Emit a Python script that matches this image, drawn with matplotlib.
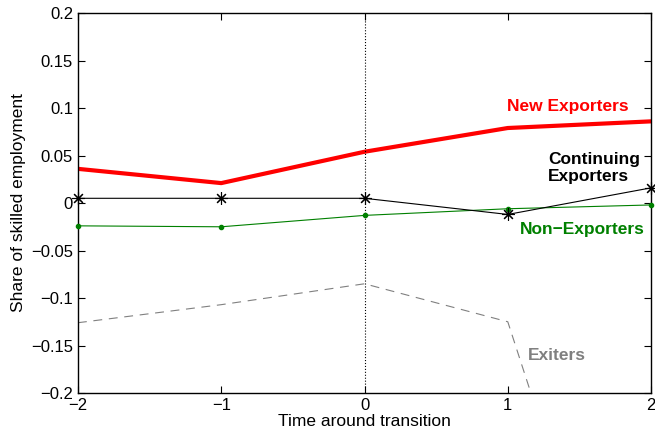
import matplotlib
matplotlib.use("Agg")
import matplotlib.pyplot as plt

plt.rcParams['font.family'] = ['Liberation Sans', 'DejaVu Sans']

t = [-2, -1, 0, 1, 2]
new_exp = [0.036, 0.021, 0.054, 0.079, 0.086]
cont_exp = [0.005, 0.005, 0.005, -0.012, 0.016]
non_exp = [-0.024, -0.025, -0.013, -0.006, -0.002]
exiters = [-0.126, -0.107, -0.085, -0.125, -0.59]

fig = plt.figure(figsize=(6.55, 4.36), dpi=100)
ax = fig.add_axes([0.119, 0.0986, 0.875, 0.8714])

ax.plot(t, new_exp, color='red', lw=3)
ax.plot(t, cont_exp, color='black', lw=0.8, marker=(8, 2, 0), ms=9, mew=0.8, clip_on=False, zorder=4)
ax.plot(t, non_exp, color='green', lw=0.8, marker='o', ms=3, clip_on=False, zorder=3)
ax.plot(t, exiters, color='gray', lw=0.8, ls=(0, (8, 6)))
ax.axvline(0, color='black', lw=0.8, ls=':')

ax.text(1.42, 0.102, 'New Exporters', color='red', fontsize=12.5, fontweight='bold', ha='center', va='center')
ax.text(1.28, 0.037, 'Continuing\nExporters', color='black', fontsize=12.5, fontweight='bold', ha='left', va='center', linespacing=1.2)
ax.text(1.52, -0.028, 'Non\u2212Exporters', color='green', fontsize=12.5, fontweight='bold', ha='center', va='center')
ax.text(1.345, -0.160, 'Exiters', color='gray', fontsize=12.5, fontweight='bold', ha='center', va='center')

ax.set_xlim(-2, 2)
ax.set_ylim(-0.2, 0.2)
ax.set_xticks(t)
ax.set_xticklabels(['\u22122', '\u22121', '0', '1', '2'])
yt = [-0.2, -0.15, -0.1, -0.05, 0, 0.05, 0.1, 0.15, 0.2]
ax.set_yticks(yt)
ax.set_yticklabels(['\u22120.2', '\u22120.15', '\u22120.1', '\u22120.05', '0', '0.05', '0.1', '0.15', '0.2'])
ax.tick_params(direction='in', top=True, right=True, labelsize=12, length=5, width=0.8)
for s in ax.spines.values():
    s.set_linewidth(1.0)

ax.set_xlabel('Time around transition', fontsize=12.5, labelpad=1)
ax.set_ylabel('Share of skilled employment', fontsize=12.5, labelpad=4)

plt.savefig('out.png', dpi=100)
